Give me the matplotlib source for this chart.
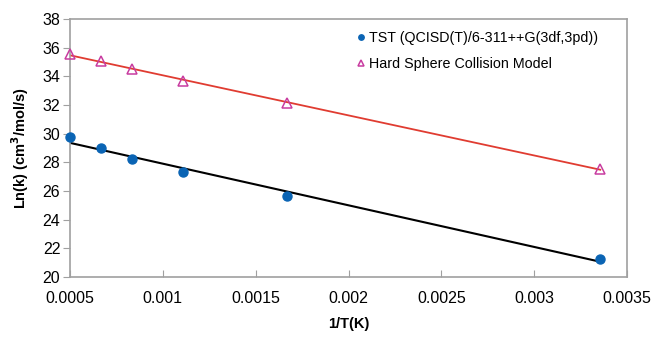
import numpy as np
import matplotlib
matplotlib.use("Agg")
import matplotlib.pyplot as plt

plt.rcParams['font.family'] = ['Liberation Sans', 'DejaVu Sans']

# 1/T values (K^-1)
inv_T = [0.0005, 0.000667, 0.000833, 0.001111, 0.001667, 0.003356]
tst_lnk = [29.77, 29.0, 28.23, 27.33, 25.65, 21.26]
hs_lnk = [35.56, 35.05, 34.5, 33.68, 32.14, 27.53]

fig = plt.figure(figsize=(6.52, 3.39), dpi=100)
ax = fig.add_axes([70 / 652, 1 - 277 / 339, 557 / 652, 258 / 339])

x = np.array(inv_T)
# linear trendlines
p_tst = np.polyfit(x, tst_lnk, 1)
p_hs = np.polyfit(x, hs_lnk, 1)
xl = np.array([x.min(), x.max()])
ax.plot(xl, np.polyval(p_tst, xl), color='black', lw=1.5, zorder=2)
ax.plot(xl, np.polyval(p_hs, xl), color='#e03c31', lw=1.3, zorder=2)

ax.plot(x, tst_lnk, 'o', color='#0a64b4', ms=6.5, ls='none',
        label='TST (QCISD(T)/6-311++G(3df,3pd))', zorder=3, clip_on=False)
ax.plot(x, hs_lnk, '^', mfc='none', mec='#c83ca0', mew=1.1, ms=7.5, ls='none',
        label='Hard Sphere Collision Model', zorder=3, clip_on=False)

ax.set_xlim(0.0005, 0.0035)
ax.set_ylim(20, 38)
ax.set_xticks([0.0005, 0.001, 0.0015, 0.002, 0.0025, 0.003, 0.0035])
ax.set_xticklabels(['0.0005', '0.001', '0.0015', '0.002', '0.0025', '0.003', '0.0035'])
ax.set_yticks(range(20, 39, 2))

for s in ax.spines.values():
    s.set_color('#a0a0a0')
    s.set_linewidth(1.2)
ax.tick_params(axis='x', direction='in', length=5, color='#a0a0a0', labelsize=11.5, pad=10)
ax.tick_params(axis='y', direction='out', length=5, color='#a0a0a0', labelsize=11.5, pad=2)

ax.set_xlabel('1/T(K)', fontweight='bold', fontsize=10.5, labelpad=8)
ax.set_ylabel('Ln(k) (cm$^\\mathbf{3}$/mol/s)', fontweight='bold', fontsize=10.5, labelpad=8)

ax.legend(loc='upper right', frameon=False, fontsize=10.3, handletextpad=0.15,
          handlelength=0.8, markerscale=0.6, labelspacing=0.85,
          borderaxespad=0.0, bbox_to_anchor=(0.958, 0.975))

fig.savefig('out.png', dpi=100)
